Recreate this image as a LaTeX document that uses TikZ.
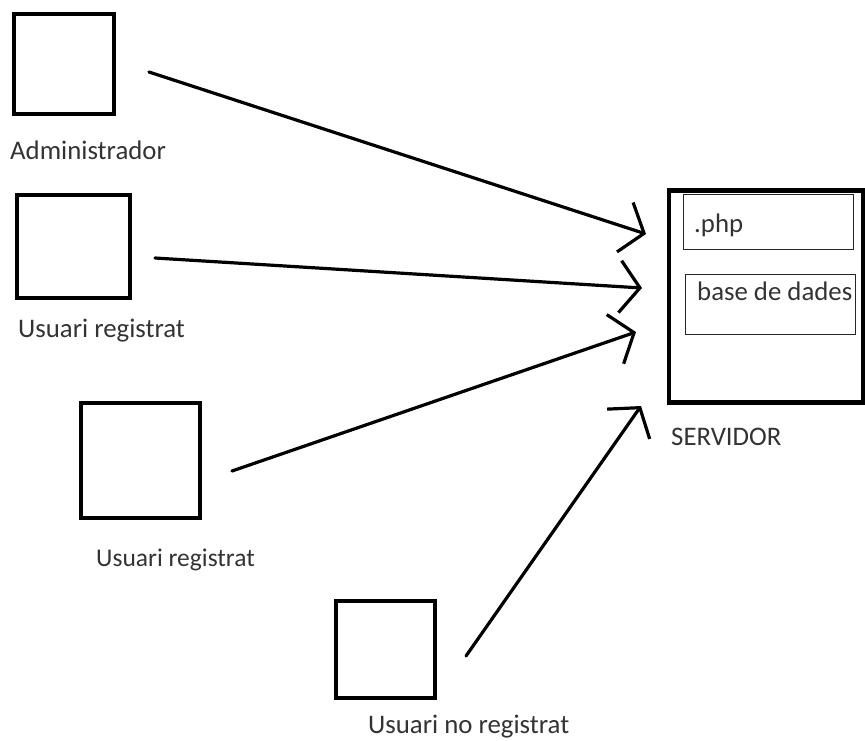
\documentclass[tikz,border=0pt]{standalone}
\usepackage{fontspec}
\setmainfont{Carlito}
\usetikzlibrary{arrows.meta}
\begin{document}
\begin{tikzpicture}[x=1pt,y=-1pt,
  actor/.style={draw, line width=4pt, inner sep=0pt},
  server/.style={draw, line width=4.5pt, inner sep=0pt},
  part/.style={draw, line width=1.3pt, inner sep=0pt, draw=black!85},
  caption/.style={anchor=base west, inner sep=0pt, text=black!80,
    font=\fontsize{26.8}{30}\selectfont},
  request/.style={line width=3.2pt, line cap=round, line join=round,
    -{Straight Barb[length=20pt, width=52pt, line width=3.2pt]}}]
\useasboundingbox (0,0) rectangle (865,740);

% clients
\node[actor, minimum width=100pt, minimum height=100pt] (admin) at (64,64) {};
\node[actor, minimum width=113pt, minimum height=103pt] (reg1) at (73.5,246.5) {};
\node[actor, minimum width=119pt, minimum height=115pt] (reg2) at (140.5,460.5) {};
\node[actor, minimum width=99pt, minimum height=97pt] (noreg) at (385.5,649.5) {};

\node[caption] (adminlbl) at (10,159) {Administrador};
\node[caption] (reg1lbl) at (18,337) {Usuari registrat};
\node[caption, font=\fontsize{25.5}{28}\selectfont] (reg2lbl) at (96,566) {Usuari registrat};
\node[caption] (noreglbl) at (368,733) {Usuari no registrat};

% server and its parts
\node[server, minimum width=194pt, minimum height=212pt] (srv) at (766,296.5) {};
\node[part, minimum width=170pt, minimum height=55pt] (php) at (768.5,222) {};
\node[part, minimum width=170pt, minimum height=60pt] (db) at (770.5,304.5) {};
\node[caption] (phplbl) at (694,232) {.php};
\node[caption] (dblbl) at (697,300) {base de dades};
\node[caption] (srvlbl) at (671,445) {SERVIDOR};

% request arrows
\coordinate (a0) at (149,72);
\coordinate (a1) at (646,234);
\coordinate (b0) at (155,258);
\coordinate (b1) at (642,288);
\coordinate (c0) at (232,471);
\coordinate (c1) at (636,332);
\coordinate (d0) at (466,656);
\coordinate (d1) at (641,406);
\draw[request] (a0) -- (a1);
\draw[request] (b0) -- (b1);
\draw[request] (c0) -- (c1);
\draw[request] (d0) -- (d1);
\end{tikzpicture}
\end{document}
